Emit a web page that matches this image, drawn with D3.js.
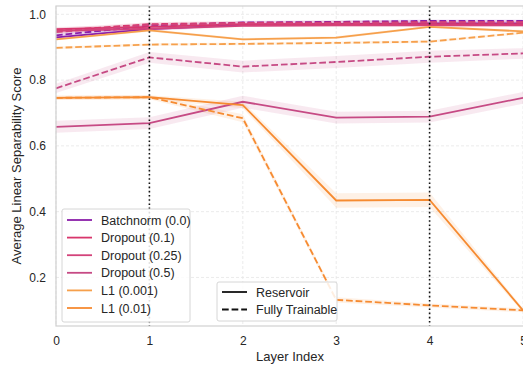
<!DOCTYPE html>
<html>
<head>
<meta charset="utf-8">
<script src="https://cdn.jsdelivr.net/npm/d3@7"></script>
<style>
  body { margin: 0; background: #fff; }
  svg { display: block; font-family: "Liberation Sans", Arial, sans-serif; }
</style>
</head>
<body>
<div id="chart"></div>
<script>
const layers = [0, 1, 2, 3, 4, 5];
const xTicks = [0, 1, 2, 3, 4, 5];
const yTicks = [0.2, 0.4, 0.6, 0.8, 1.0];
const markedLayers = [1, 4];

const seriesNames = ["Batchnorm (0.0)", "Dropout (0.1)", "Dropout (0.25)", "Dropout (0.5)", "L1 (0.001)", "L1 (0.01)"];
const seriesColors = ["#8b1fa9", "#d8366c", "#d3437a", "#c64a84", "#f6a04c", "#f68b31"];

// reservoir (solid) means
const reservoir = [
  [0.930, 0.955, 0.968, 0.970, 0.972, 0.972],
  [0.955, 0.962, 0.970, 0.970, 0.970, 0.970],
  [0.950, 0.956, 0.965, 0.966, 0.966, 0.966],
  [0.658, 0.669, 0.734, 0.686, 0.689, 0.746],
  [0.924, 0.951, 0.924, 0.929, 0.962, 0.948],
  [0.746, 0.748, 0.724, 0.434, 0.436, 0.100]
];
// fully trainable (dashed) means
const trainable = [
  [0.936, 0.965, 0.975, 0.977, 0.980, 0.980],
  [0.950, 0.970, 0.974, 0.975, 0.976, 0.976],
  [0.946, 0.968, 0.972, 0.973, 0.975, 0.975],
  [0.775, 0.869, 0.841, 0.855, 0.871, 0.881],
  [0.898, 0.908, 0.910, 0.913, 0.917, 0.944],
  [0.746, 0.748, 0.684, 0.132, 0.115, 0.100]
];
// band half widths
const reservoirSpread = [
  [0.006, 0.006, 0.004, 0.004, 0.004, 0.004],
  [0.006, 0.006, 0.004, 0.004, 0.004, 0.004],
  [0.006, 0.006, 0.004, 0.004, 0.004, 0.004],
  [0.018, 0.018, 0.018, 0.018, 0.018, 0.018],
  [0.004, 0.004, 0.004, 0.004, 0.004, 0.004],
  [0.006, 0.006, 0.010, 0.022, 0.022, 0.006]
];
const trainableSpread = [
  [0.006, 0.005, 0.004, 0.004, 0.004, 0.004],
  [0.008, 0.006, 0.006, 0.006, 0.006, 0.006],
  [0.008, 0.006, 0.006, 0.006, 0.006, 0.006],
  [0.014, 0.016, 0.018, 0.018, 0.018, 0.016],
  [0.004, 0.004, 0.004, 0.004, 0.004, 0.004],
  [0.006, 0.006, 0.012, 0.008, 0.006, 0.006]
];

const width = 523, height = 366;
const margin = {top: 6, right: -1, bottom: 40, left: 56};
const innerW = width - margin.left - margin.right;
const innerH = height - margin.top - margin.bottom;

const svg = d3.select("#chart").append("svg")
  .attr("width", width)
  .attr("height", height);

const x = d3.scaleLinear().domain([0, 5]).range([margin.left, 523]);
const y = d3.scaleLinear().domain([0.0524, 1.0252]).range([height - margin.bottom, margin.top]);

const plot = svg.append("g");

// grid
plot.append("g").selectAll("line")
  .data(yTicks)
  .enter().append("line")
  .attr("x1", margin.left).attr("x2", width)
  .attr("y1", d => y(d)).attr("y2", d => y(d))
  .attr("stroke", "#e6e6e6").attr("stroke-width", 0.8)
  .attr("stroke-dasharray", "3,2");
plot.append("g").selectAll("line")
  .data(xTicks)
  .enter().append("line")
  .attr("x1", d => x(d)).attr("x2", d => x(d))
  .attr("y1", y.range()[1]).attr("y2", y.range()[0])
  .attr("stroke", "#e6e6e6").attr("stroke-width", 0.8)
  .attr("stroke-dasharray", "3,2");

const line = d3.line().x((d, i) => x(layers[i])).y(d => y(d));
const band = d3.area()
  .x(d => x(d.layer))
  .y0(d => y(d.mean - d.spread))
  .y1(d => y(d.mean + d.spread));

const bandData = (means, spreads) => means.map((m, i) => ({layer: layers[i], mean: m, spread: spreads[i]}));

// bands
seriesNames.forEach((name, k) => {
  plot.append("path")
    .datum(bandData(reservoir[k], reservoirSpread[k]))
    .attr("d", band)
    .attr("fill", seriesColors[k]).attr("fill-opacity", 0.12);
  plot.append("path")
    .datum(bandData(trainable[k], trainableSpread[k]))
    .attr("d", band)
    .attr("fill", seriesColors[k]).attr("fill-opacity", 0.12);
});

// lines
seriesNames.forEach((name, k) => {
  plot.append("path")
    .datum(reservoir[k])
    .attr("d", line)
    .attr("fill", "none")
    .attr("stroke", seriesColors[k]).attr("stroke-width", 1.8);
  plot.append("path")
    .datum(trainable[k])
    .attr("d", line)
    .attr("fill", "none")
    .attr("stroke", seriesColors[k]).attr("stroke-width", 1.8)
    .attr("stroke-dasharray", "6.7,2.9");
});

// dotted markers
plot.append("g").selectAll("line")
  .data(markedLayers)
  .enter().append("line")
  .attr("x1", d => x(d)).attr("x2", d => x(d))
  .attr("y1", y.range()[1]).attr("y2", y.range()[0])
  .attr("stroke", "#111").attr("stroke-width", 1.6)
  .attr("stroke-dasharray", "1.6,2.6");

// frame
svg.append("rect")
  .attr("x", margin.left).attr("y", margin.top)
  .attr("width", innerW + 4).attr("height", innerH)
  .attr("fill", "none").attr("stroke", "#d0d0d0").attr("stroke-width", 1.2);

// axes
const xAxis = svg.append("g")
  .attr("transform", `translate(0,${height - margin.bottom})`)
  .call(d3.axisBottom(x).tickValues(xTicks).tickFormat(d3.format("d")).tickSize(0).tickPadding(10));
const yAxis = svg.append("g")
  .attr("transform", `translate(${margin.left},0)`)
  .call(d3.axisLeft(y).tickValues(yTicks).tickFormat(d3.format(".1f")).tickSize(0).tickPadding(10));
[xAxis, yAxis].forEach(a => {
  a.select(".domain").remove();
  a.selectAll("text").attr("font-size", 12).attr("fill", "#262626")
    .attr("font-family", "'Liberation Sans', Arial, sans-serif");
});

svg.append("text")
  .attr("x", (margin.left + 524) / 2).attr("y", 361)
  .attr("text-anchor", "middle").attr("font-size", 13).attr("fill", "#262626")
  .text("Layer Index");
svg.append("text")
  .attr("transform", `translate(21,${(y.range()[0] + y.range()[1]) / 2}) rotate(-90)`)
  .attr("text-anchor", "middle").attr("font-size", 13).attr("fill", "#262626")
  .text("Average Linear Separability Score");

// legend: series
const leg1 = svg.append("g").attr("transform", "translate(62,209)");
leg1.append("rect").attr("width", 128).attr("height", 113).attr("rx", 2)
  .attr("fill", "#fff").attr("fill-opacity", 0.85).attr("stroke", "#d6d6d6");
seriesNames.forEach((name, k) => {
  const g = leg1.append("g").attr("transform", `translate(0,${11 + k * 17.6})`);
  g.append("line").attr("x1", 5).attr("x2", 30).attr("stroke", seriesColors[k]).attr("stroke-width", 1.8);
  g.append("text").attr("x", 39).attr("y", 4.5).attr("font-size", 12.5).attr("fill", "#262626").text(name);
});

// legend: style
const styleNames = ["Reservoir", "Fully Trainable"];
const styleDash = [null, "6.7,2.9"];
const leg2 = svg.append("g").attr("transform", "translate(217,282)");
leg2.append("rect").attr("width", 120).attr("height", 39).attr("rx", 2)
  .attr("fill", "#fff").attr("fill-opacity", 0.85).attr("stroke", "#d6d6d6");
styleNames.forEach((name, k) => {
  const g = leg2.append("g").attr("transform", `translate(0,${10 + k * 17.5})`);
  g.append("line").attr("x1", 5).attr("x2", 30).attr("stroke", "#111").attr("stroke-width", 1.8)
    .attr("stroke-dasharray", styleDash[k]);
  g.append("text").attr("x", 39).attr("y", 4.5).attr("font-size", 12.5).attr("fill", "#262626").text(name);
});
</script>
</body>
</html>
